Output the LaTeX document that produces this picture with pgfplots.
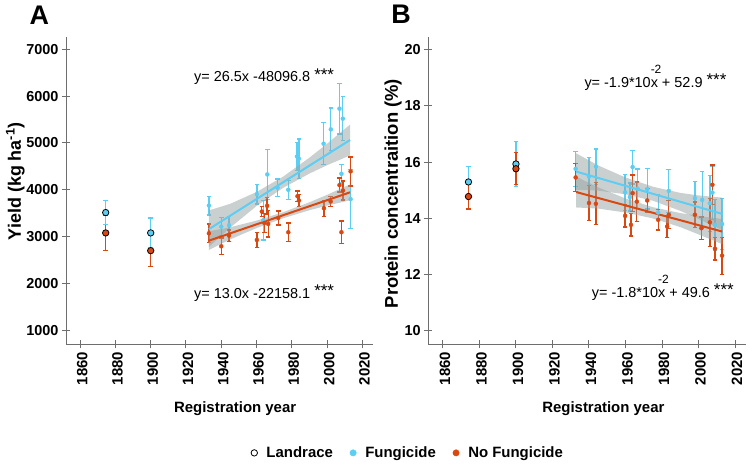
\documentclass[border=0pt]{standalone}
\usepackage{fontspec}
\setmainfont{Liberation Sans}
\usepackage{pgfplots}
\usepackage{pgfplotstable}
\pgfplotsset{compat=1.18}
\definecolor{fblue}{RGB}{92,206,244}
\definecolor{nred}{RGB}{218,72,18}
\definecolor{bandc}{RGB}{150,162,162}
\definecolor{axgray}{RGB}{110,110,110}

% ---------- Panel A data ----------
\pgfplotstableread{
x y e
1933.0 3664 200
1940.0 3214 200
1944.4 3242 190
1960.2 3906 210
1963.8 3350 420
1966.1 4328 530
1971.9 4043 190
1978.0 4000 200
1982.9 4713 300
1984.0 4664 420
1998.0 4985 450
2002.1 5291 455
2007.0 5734 540
2008.9 5520 470
2008.1 4342 200
2013.3 3800 630
}\AF
\pgfplotstableread{
x y e
1933.0 3071 200
1940.0 2793 180
1944.4 3021 120
1960.2 2929 160
1963.0 3535 110
1964.4 3293 200
1966.0 3657 180
1966.6 3271 280
1972.3 3400 150
1978.0 3093 200
1983.2 3863 110
1984.0 3771 130
1998.2 3607 170
2002.0 3750 100
2007.0 4100 150
2008.1 3093 240
2009.0 3985 200
2013.3 4392 310
}\AN
\pgfplotstableread{
x y e
1874.5 3514 250
1900.0 3079 320
}\ALF
\pgfplotstableread{
x y e
1874.5 3079 370
1900.0 2700 340
}\ALN

% ---------- Panel B data ----------
\pgfplotstableread{
x y e
1932.7 15.76 0.62
1940.0 15.48 0.67
1943.8 15.84 0.63
1959.8 14.92 0.64
1962.4 14.75 0.50
1963.9 15.82 0.60
1966.6 15.05 0.70
1971.9 15.04 0.72
1977.9 14.20 0.62
1983.7 14.97 0.76
1998.0 14.71 0.60
2002.0 14.65 1.00
2006.2 14.53 1.00
2007.6 14.91 0.95
2009.0 13.76 0.90
2012.9 13.79 0.92
}\BF
\pgfplotstableread{
x y e
1932.7 15.45 0.50
1940.0 14.54 0.62
1943.8 14.51 0.75
1959.8 14.08 0.40
1963.0 13.76 0.40
1963.9 14.89 0.65
1966.2 14.59 0.70
1971.9 14.63 0.42
1977.9 13.94 0.36
1982.8 13.70 0.39
1983.7 14.12 0.50
1998.0 14.12 0.45
2001.6 13.64 0.40
2006.2 13.85 0.85
2007.6 15.19 0.70
2009.0 12.91 0.40
2012.9 12.66 0.66
}\BN
\pgfplotstableread{
x y e
1874.0 15.29 0.55
1900.0 15.93 0.80
}\BLF
\pgfplotstableread{
x y e
1874.0 14.77 0.44
1900.0 15.76 0.57
}\BLN

\pgfplotsset{
 myaxis/.style={
  scale only axis, height=307.6bp,
  axis x line*=bottom, axis y line*=left,
  axis line style={axgray, line width=1bp, -},
  every tick/.style={axgray, line width=1bp},
  major tick length=8bp, tick align=center,
  xmin=1852, xmax=2026,
  xtick={1860,1880,...,2020},
  xticklabel style={rotate=90, anchor=east, yshift=-2bp, font=\bfseries\fontsize{15}{15}\selectfont},
  yticklabel style={font=\bfseries\fontsize{14.5}{14.5}\selectfont},
  /pgf/number format/1000 sep={}, /pgf/number format/assume math mode=true,
  xlabel={Registration year},
  xlabel style={font=\bfseries\fontsize{15}{15}\selectfont, at={(axis description cs:0.551,-0.21)}, anchor=center},
  ylabel style={font=\bfseries\fontsize{18}{18}\selectfont, anchor=center},
  clip=false,
 },
 ebF/.style={only marks, mark=*, mark size=2bp, color=fblue, mark options={draw=fblue, fill=fblue},
   error bars/.cd, y dir=both, y explicit,
   error bar style={line width=1.3bp, fblue},
   error mark options={rotate=90, line width=1.3bp, mark size=2.3bp, fblue}},
 ebN/.style={only marks, mark=*, mark size=2bp, color=nred, mark options={draw=nred, fill=nred},
   error bars/.cd, y dir=both, y explicit,
   error bar style={line width=1.3bp, nred},
   error mark options={rotate=90, line width=1.3bp, mark size=2.3bp, nred}},
 lmF/.style={only marks, mark=*, mark size=3.2bp, color=fblue, mark options={draw=black, fill=fblue, line width=0.8bp},
   error bars/.cd, y dir=both, y explicit,
   error bar style={line width=1.3bp, fblue},
   error mark options={rotate=90, line width=1.3bp, mark size=2.3bp, fblue}},
 lmN/.style={only marks, mark=*, mark size=3.2bp, color=nred, mark options={draw=black, fill=nred, line width=0.8bp},
   error bars/.cd, y dir=both, y explicit,
   error bar style={line width=1.3bp, nred},
   error mark options={rotate=90, line width=1.3bp, mark size=2.3bp, nred}},
 bandst/.style={fill=bandc, fill opacity=0.5, draw=none, forget plot},
}

\newcommand{\stars}{\raisebox{0.12em}{\fontsize{17}{17}\selectfont ***}}

\begin{document}
\begin{tikzpicture}
\useasboundingbox (0,0) rectangle (750bp,465bp);

% ================= Panel A =================
\begin{axis}[myaxis, at={(66bp,120.7bp)}, anchor=south west, width=307bp,
  ymin=700, ymax=7270, ytick={1000,2000,...,7000},
  ylabel={Yield (kg ha\textsuperscript{-1})},
  ylabel style={at={(axis description cs:-0.165,0.53)}},
  legend style={at={(axis description cs:1.114,-0.353)}, anchor=center, draw=none,
    font=\bfseries\fontsize{15}{15}\selectfont, legend columns=3,
    /tikz/column 1/.style={column sep=7bp}, /tikz/column 3/.style={column sep=7bp}, /tikz/column 5/.style={column sep=7bp},
    /tikz/column 2/.style={column sep=15bp}, /tikz/column 4/.style={column sep=15bp}},
  legend image code/.code={\draw[#1] plot coordinates {(0bp,0bp)};},
]
\addlegendimage{only marks, mark=o, mark size=3.2bp, black, line width=0.8bp}
\addlegendentry{Landrace}
\addlegendimage{only marks, mark=*, mark size=3.2bp, fblue}
\addlegendentry{Fungicide}
\addlegendimage{only marks, mark=*, mark size=3.2bp, nred}
\addlegendentry{No Fungicide}

\addplot[ebF] table[x=x, y=y, y error=e] {\AF};
\addplot[ebN] table[x=x, y=y, y error=e] {\AN};
% confidence bands
\addplot[bandst] coordinates {(1933,3560) (1945,3700) (1960,3953) (1975,4280) (1990,4687) (2000,4985) (2013,5394)
  (2013,4734) (2000,4525) (1990,4347) (1975,4040) (1960,3653) (1945,3190) (1933,2780)};
\addplot[bandst] coordinates {(1933,3114) (1945,3199) (1960,3342) (1975,3521) (1990,3734) (2000,3893) (2013,4116)
  (2013,3776) (2000,3663) (1990,3564) (1975,3391) (1960,3182) (1945,2939) (1933,2714)};
% regression lines
\addplot[fblue, line width=2bp, no marks, forget plot] coordinates {(1933,3160) (2013,5064)};
\addplot[nred, line width=2bp, no marks, forget plot] coordinates {(1933,2914) (2013,3946)};
% landraces
\addplot[lmN] table[x=x, y=y, y error=e] {\ALN};
\addplot[lmF] table[x=x, y=y, y error=e] {\ALF};
\end{axis}

% ================= Panel B =================
\begin{axis}[myaxis, at={(428.3bp,120.7bp)}, anchor=south west, width=317.7bp,
  ymin=9.5, ymax=20.47, ytick={10,12,...,20},
  ylabel={Protein concentraition (\%)},
  ylabel style={at={(axis description cs:-0.111,0.49)}, font=\bfseries\fontsize{18.5}{18.5}\selectfont},
]
\addplot[ebF] table[x=x, y=y, y error=e] {\BF};
\addplot[ebN] table[x=x, y=y, y error=e] {\BN};
\addplot[bandst] coordinates {(1933,16.31) (1945,15.88) (1960,15.45) (1975,15.12) (1990,14.90) (2000,14.81) (2013,14.73)
  (2013,13.57) (2000,13.97) (1990,14.26) (1975,14.62) (1960,14.85) (1945,14.98) (1933,15.01)};
\addplot[bandst] coordinates {(1933,15.48) (1945,15.10) (1960,14.70) (1975,14.39) (1990,14.18) (2000,14.08) (2013,13.97)
  (2013,13.07) (2000,13.42) (1990,13.68) (1975,13.99) (1960,14.20) (1945,14.34) (1933,14.38)};
\addplot[fblue, line width=2bp, no marks] coordinates {(1933,15.66) (2013,14.15)};
\addplot[nred, line width=2bp, no marks] coordinates {(1933,14.93) (2013,13.52)};
\addplot[lmF] table[x=x, y=y, y error=e] {\BLF};
\addplot[lmN] table[x=x, y=y, y error=e] {\BLN};
\end{axis}

% panel letters
\node[font=\bfseries\fontsize{27}{27}\selectfont] at (39.4bp,449.5bp) {A};
\node[font=\bfseries\fontsize{27}{27}\selectfont] at (401bp,451bp) {B};

% equations
\node[anchor=base west, inner sep=0, font=\fontsize{14.5}{14.5}\selectfont] at (194bp,383bp)
  {y= 26.5x -48096.8 \stars};
\node[anchor=base west, inner sep=0, font=\fontsize{14.5}{14.5}\selectfont] at (194bp,166.7bp)
  {y= 13.0x -22158.1 \stars};
\node[anchor=base west, inner sep=0, font=\fontsize{14.5}{14.5}\selectfont] at (584.3bp,377.7bp)
  {y= -1.9*10\makebox[0pt][l]{\raisebox{0.95em}{\fontsize{12}{12}\selectfont -2}}x + 52.9 \stars};
\node[anchor=base west, inner sep=0, font=\fontsize{14.5}{14.5}\selectfont] at (591.7bp,167.3bp)
  {y= -1.8*10\makebox[0pt][l]{\raisebox{0.95em}{\fontsize{12}{12}\selectfont -2}}x + 49.6 \stars};
\end{tikzpicture}
\end{document}
